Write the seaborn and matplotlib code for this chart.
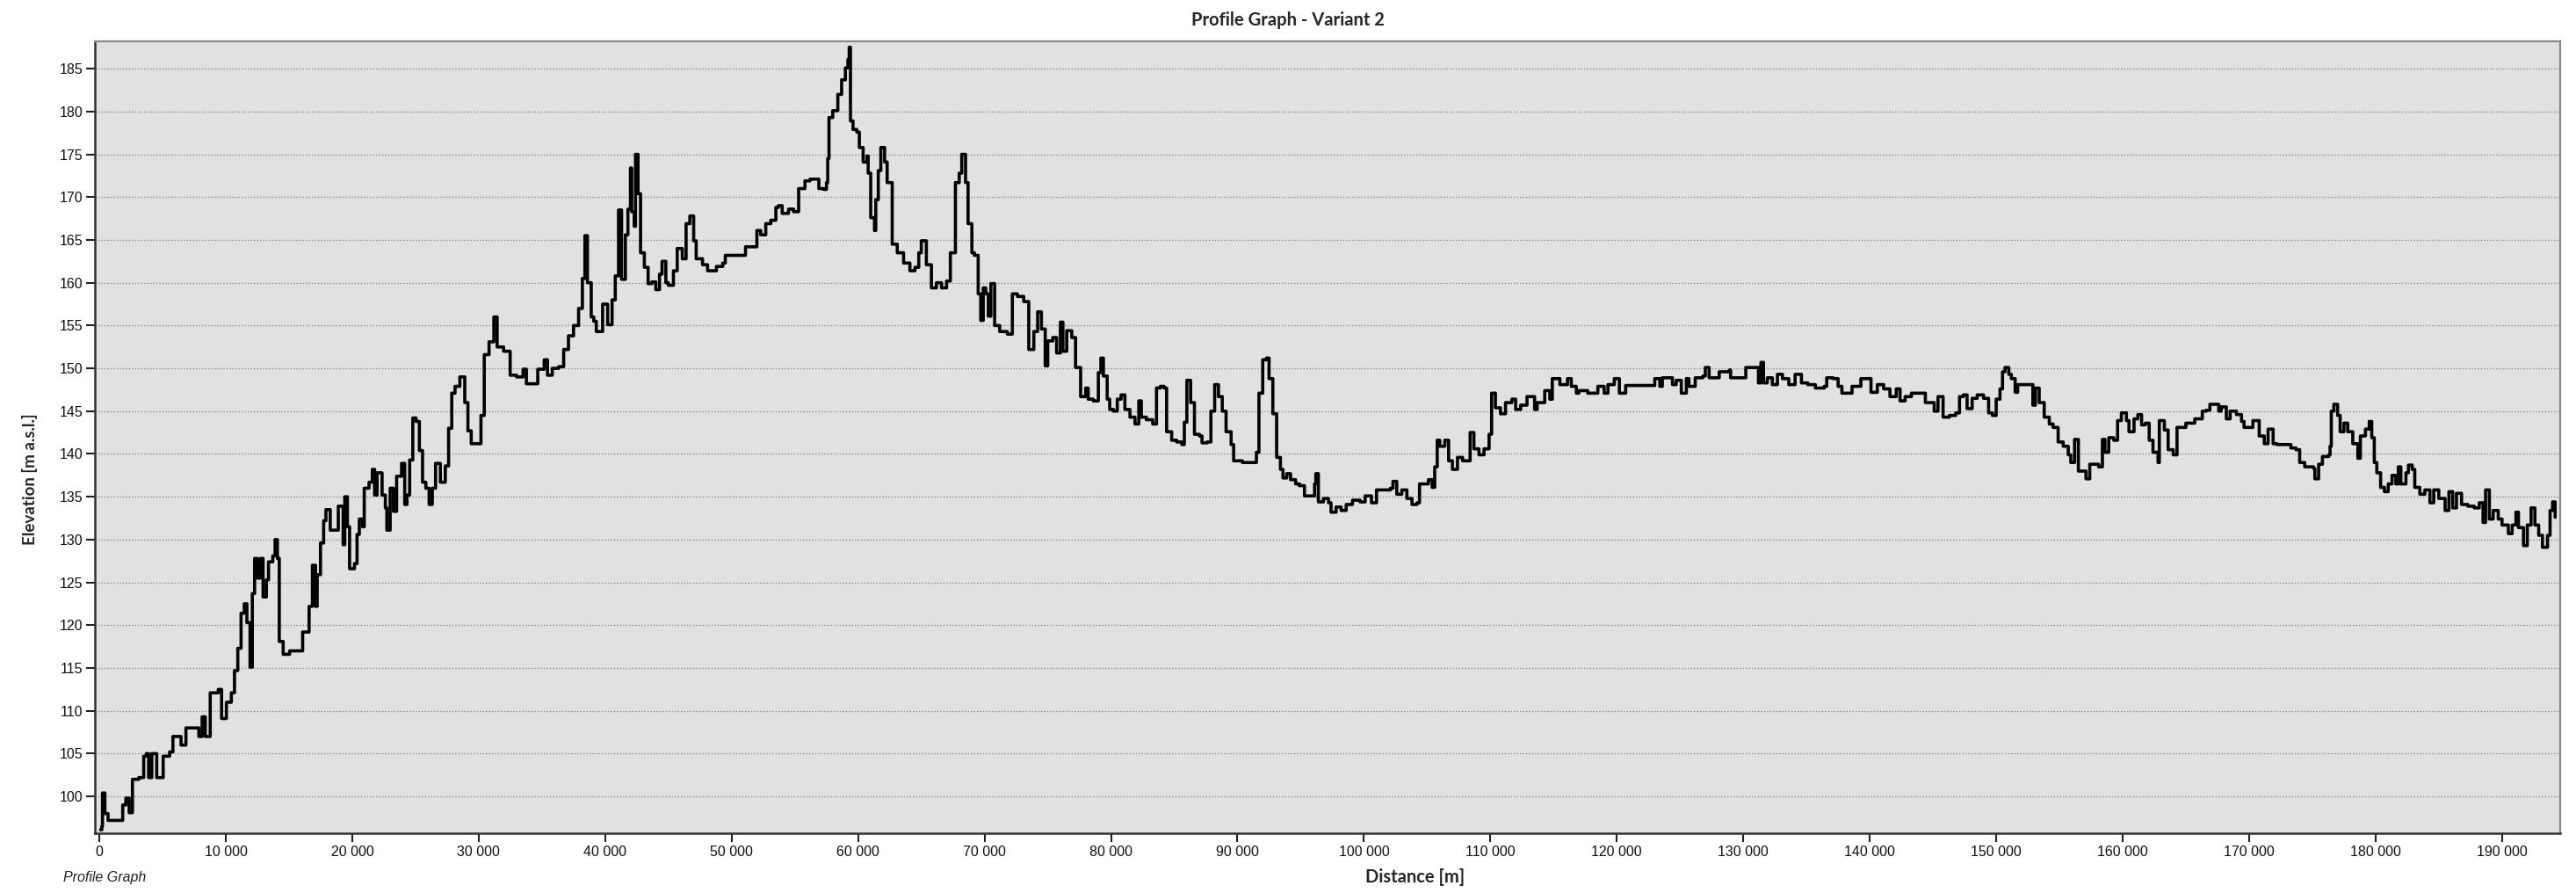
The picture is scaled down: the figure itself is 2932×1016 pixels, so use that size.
import numpy as np
import pandas as pd
import matplotlib
matplotlib.use("Agg")
from matplotlib import pyplot as plt
from matplotlib.ticker import FuncFormatter, MultipleLocator
import seaborn as sns

# profile: distance in km, elevation in m a.s.l.
distance_km = [
    0.1, 0.2, 0.25, 0.44, 0.69, 1.72, 1.85, 2.10, 2.36, 2.62, 3.13, 3.51, 3.72, 3.90, 4.15, 4.54,
    4.92, 5.05, 5.56, 5.82, 6.33, 6.46, 6.85, 7.87, 8.13, 8.38, 8.64, 8.77, 9.41, 9.67, 10.05,
    10.44, 10.69, 10.95, 11.21, 11.46, 11.67, 11.92, 12.10, 12.28, 12.49, 12.74, 12.95, 13.21,
    13.38, 13.72, 13.90, 14.08, 14.23, 14.54, 15.05, 15.56, 16.08, 16.59, 16.85, 17.10, 17.23,
    17.49, 17.74, 17.92, 18.26, 18.64, 18.90, 19.28, 19.41, 19.62, 19.79, 20.18, 20.38, 20.56,
    20.82, 20.95, 21.33, 21.59, 21.77, 21.97, 22.36, 22.62, 22.74, 23.00, 23.26, 23.51, 23.90,
    24.15, 24.33, 24.54, 24.79, 25.05, 25.31, 25.56, 25.82, 26.08, 26.33, 26.59, 26.97, 27.36,
    27.62, 27.87, 28.13, 28.51, 28.90, 29.15, 29.41, 29.79, 30.18, 30.44, 30.82, 31.2, 31.46,
    31.97, 32.49, 33.00, 33.51, 33.77, 34.28, 34.67, 35.18, 35.44, 35.82, 36.33, 36.72, 37.10,
    37.5, 37.9, 38.2, 38.4, 38.6, 38.9, 39.1,
    39.3, 39.8, 40.2, 40.55, 40.8, 41.06, 41.3, 41.6, 41.8, 42.0, 42.1, 42.3, 42.4, 42.6, 42.8,
    43.1, 43.4, 43.7, 44.0, 44.3, 44.5, 44.8, 45.0, 45.4, 45.7, 46.1, 46.4, 46.7, 47.0, 47.2,
    47.7, 48.1, 48.8, 49.3, 49.5, 50.3, 51.1, 51.6, 52.0, 52.3, 52.7, 53.1, 53.5, 53.7, 54.0,
    54.5, 54.9, 55.3, 55.8, 56.2, 56.7, 56.9, 57.3, 57.5, 57.6, 57.7, 58.0, 58.4, 58.7, 59.0,
    59.2, 59.3, 59.4, 59.6, 59.9, 60.1, 60.4, 60.7, 60.8, 61.0, 61.3, 61.4, 61.6, 61.8, 62.1,
    62.3, 62.7, 63.1, 63.6, 64.1, 64.5, 64.8, 65.0, 65.4, 65.8, 66.2, 66.6, 67.0, 67.3, 67.7,
    68.0, 68.2, 68.5, 68.7, 69.0, 69.2, 69.5, 69.7, 69.9, 70.1, 70.3, 70.5, 70.8, 71.2, 71.8,
    72.2, 72.6, 73.1, 73.5, 73.9, 74.2, 74.5, 74.8, 75.0, 75.4, 75.7, 76.0, 76.2, 76.5, 76.9,
    77.2, 77.6, 78.0, 78.2, 78.6, 79.0,
    79.2, 79.4, 79.7, 79.9, 80.2, 80.5, 80.8, 81.1, 81.5, 81.9, 82.2, 82.4, 82.8, 83.3, 83.6,
    83.9, 84.2, 84.4, 84.8, 85.2, 85.6, 85.8, 86.0, 86.3, 86.6, 87.0, 87.2, 87.6, 87.9, 88.2,
    88.5, 88.8, 89.1, 89.5, 89.7, 90.4, 91.2, 91.5, 91.7, 92.0, 92.3, 92.5, 92.8, 93.1, 93.4,
    93.6, 93.9, 94.2, 94.6, 94.9, 95.3, 95.7, 96.1, 96.2, 96.4, 96.8, 97.2, 97.4, 97.8, 98.2,
    98.6, 99.1, 99.7, 100.1, 100.6, 101.0, 101.5, 102.1, 102.3, 102.6, 103.0, 103.4, 103.8,
    104.2, 104.4, 104.8, 105.1, 105.4, 105.6, 105.8, 106.0, 106.4, 106.7, 107.0, 107.4, 107.8,
    108.1, 108.4, 108.7, 109.1, 109.5, 109.9, 110.1, 110.4, 110.8, 111.2, 111.7, 112.0, 112.4,
    112.9, 113.5, 113.7, 114.3, 114.7, 114.9, 115.5, 116.1, 116.4, 116.8, 117.0, 117.7, 118.3,
    118.5, 119.0, 119.3, 119.8, 120.2,
    120.7, 122.9, 123.0, 123.4, 123.6, 124.2, 124.4, 124.7, 125.1, 125.5, 125.7, 126.2, 126.8,
    127.0, 127.3, 128.1, 128.9, 129.0, 129.9, 130.2, 131.0, 131.2, 131.4, 131.6, 131.9, 132.3,
    132.7, 133.1, 133.6, 134.1, 134.6, 135.1, 135.7, 136.4, 136.6, 137.1, 137.5, 137.8, 138.3,
    138.6, 139.3, 139.7, 140.1, 140.6, 141.1, 141.6, 142.1, 142.4, 142.8, 143.3, 144.3, 144.4,
    144.9, 145.1, 145.4, 145.8, 146.3, 146.8, 147.1, 147.4, 147.7, 148.1, 148.5, 149.0, 149.4,
    149.7, 150.0, 150.3, 150.5, 150.7, 151.0, 151.2, 151.5, 151.7, 152.8, 152.9, 153.1, 153.4,
    153.8, 154.2, 154.5, 154.9, 155.3, 155.7, 155.9, 156.2, 156.5, 156.9, 157.1, 157.4, 157.9,
    158.1, 158.4,
    158.6, 158.9, 159.3, 159.6, 159.9, 160.3, 160.5, 160.9, 161.2, 161.5, 161.8, 162.1, 162.4,
    162.8, 162.9, 163.3, 163.6, 164.0, 164.3, 164.8, 165.0, 165.5, 165.7, 166.2, 166.3, 166.6,
    166.9, 167.3, 167.6, 167.8, 168.2, 168.5, 169.0, 169.4, 169.6, 170.1, 170.3, 170.6, 170.8,
    171.2, 171.5, 171.9, 172.2, 172.9, 173.3, 173.7, 174.0, 174.4, 174.8, 175.1, 175.2, 175.5,
    175.8, 176.3, 176.4, 176.5, 176.7, 177.0, 177.2, 177.5, 177.8, 178.2, 178.6, 178.8, 179.2,
    179.5, 179.7, 179.9, 180.1, 180.4, 180.7, 181.0, 181.3, 181.6, 181.8, 182.0, 182.4, 182.6,
    182.9, 183.1, 183.5, 183.9, 184.3, 184.6, 185.0, 185.5, 185.8, 186.1, 186.4, 186.8, 187.3,
    187.8, 188.2, 188.5, 188.7, 189.0, 189.3, 189.7, 190.0, 190.5, 190.8, 191.1, 191.3, 191.7,
    192.0, 192.3, 192.6, 192.9, 193.2, 193.6, 193.8, 194.0, 194.2,
]

elevation = [
    96.1, 96.5, 100.4, 98.0, 97.2, 97.2, 99.0, 99.8, 98.1, 102.0, 102.2, 104.7, 105.0, 102.2, 105.0, 102.2,
    102.2, 104.7, 105.2, 107.0, 107.0, 106.0, 108.0, 107.0, 109.3, 107.0, 107.0, 112.1, 112.5, 109.1, 111.0,
    112.1, 114.7, 117.3, 121.4, 122.5, 120.3, 115.1, 123.7, 127.8, 125.5, 127.8, 123.3, 125.3,
    127.4, 128.1, 130.0, 127.8, 118.1, 116.6, 117.0, 117.0, 119.2, 122.2, 127.0, 122.2, 125.9,
    129.6, 132.2, 133.5, 131.1, 131.1, 133.9, 129.4, 135.0, 131.5, 126.6, 127.2, 130.6, 132.4,
    131.5, 136.0, 136.7, 138.2, 135.2, 137.8, 135.2, 133.7, 131.1, 136.0, 133.3, 137.4, 138.9,
    134.1, 135.2, 139.3, 144.2, 143.8, 140.4, 136.7, 136.0, 134.1, 136.0, 138.9, 136.7, 138.6,
    143.0, 147.1, 147.9, 149.0, 146.0, 142.7, 141.2, 141.2, 144.5, 151.6, 153.1, 156.0, 152.5,
    152.0, 149.2, 149.0, 149.9, 148.2, 148.2, 149.9, 151.0, 149.2, 150.0, 150.2, 152.2, 153.8,
    155.0, 157.0, 160.5, 165.5, 160.0, 156.0, 155.5,
    154.3, 157.5, 155.1, 158.0, 160.8, 168.5, 160.4, 165.6, 168.6, 173.4, 168.3, 166.6, 175.0, 170.4, 163.5,
    161.8, 159.9, 160.1, 159.2, 161.0, 162.5, 160.0, 159.7, 161.4, 164.0, 162.8, 166.9, 167.8, 164.9, 162.8,
    162.1, 161.4, 161.9, 162.3, 163.2, 163.2, 164.2, 164.2, 166.1, 165.6, 166.9, 167.3, 168.8, 169.0, 168.1,
    168.6, 168.3, 171.0, 171.9, 172.1, 172.1, 171.0, 170.9, 171.7, 174.5, 179.3, 180.1, 182.0, 183.7, 185.1,
    186.1, 187.5, 178.9, 177.9, 177.6, 175.8, 174.1, 174.8, 172.8, 167.6, 166.1, 169.7, 173.1, 175.8, 174.1,
    171.7, 164.5, 163.5, 162.3, 161.4, 161.8, 163.5, 164.9, 162.1, 159.4, 160.0, 159.4, 160.2, 163.5, 171.7,
    172.8, 175.0, 171.7, 166.9, 163.5, 163.2, 158.7, 155.6, 159.4, 158.7, 156.1, 159.9, 155.0, 154.3, 154.0,
    158.7, 158.4, 157.8, 152.2, 154.3, 156.6, 154.6, 150.3, 153.2, 153.6, 151.8, 155.4, 152.0, 154.4, 153.6,
    150.1, 146.7, 147.7, 146.4, 146.2, 149.5,
    151.2, 149.1, 146.4, 145.2, 145.0, 146.4, 146.9, 145.2, 144.3, 143.5, 146.2, 144.3, 144.0, 143.5, 147.7,
    147.9, 147.7, 142.6, 141.6, 141.4, 141.1, 143.7, 148.6, 146.0, 142.3, 142.1, 141.3, 141.4, 145.0, 148.1,
    146.7, 145.0, 142.6, 141.1, 139.2, 139.0, 139.0, 140.2, 147.1, 151.0, 151.2, 148.8, 144.7, 139.6, 138.2,
    137.2, 137.7, 137.0, 136.5, 136.3, 135.1, 135.1, 136.5, 137.7, 134.4, 134.8, 134.3, 133.2, 133.8, 133.4,
    134.1, 134.6, 134.4, 135.1, 134.3, 135.8, 135.8, 136.0, 136.8, 135.3, 135.8, 134.8, 134.1,
    134.3, 136.5, 136.5, 137.0, 136.1, 138.5, 141.6, 140.9, 141.6, 139.2, 138.2, 139.6, 139.2,
    139.2, 142.5, 140.6, 139.9, 140.6, 142.3, 147.1, 145.4, 144.7, 146.0, 146.4, 145.2, 145.7,
    146.7, 145.2, 146.0, 147.4, 146.4, 148.8, 148.1, 148.8, 147.9, 147.1, 147.4, 147.1, 147.1,
    147.9, 147.1, 148.1, 148.8, 147.1,
    148.0, 148.0, 148.8, 147.9, 148.9, 148.9, 148.1, 148.6, 147.1, 148.8, 147.9, 148.9, 149.1,
    150.1, 148.9, 149.6, 149.8, 148.9, 148.9, 150.1, 150.1, 148.3, 150.7, 148.3, 148.9, 148.1,
    149.3, 148.8, 148.1, 149.3, 148.3, 148.1, 147.7, 147.9, 148.9, 148.8, 147.9, 147.1, 147.1,
    147.9, 148.8, 148.8, 147.2, 148.1, 147.6, 146.7, 147.6, 146.2, 146.7, 147.1, 147.1, 146.0,
    146.0, 145.0, 146.7, 144.3, 144.5, 144.8, 146.7, 146.9, 145.3, 146.5, 146.9, 146.5, 144.8,
    144.5, 146.4, 147.6, 149.6, 150.1, 149.3, 148.8, 147.2, 148.1, 148.1, 145.7, 147.7, 146.0,
    144.3, 143.5, 143.1, 141.4, 140.9, 139.9, 139.0, 141.7, 138.0, 138.0, 137.1, 138.8, 138.8,
    138.5, 141.7,
    140.2, 141.9, 141.6, 143.9, 144.8, 143.9, 142.6, 144.1, 144.6, 143.4, 143.6, 141.6, 140.2,
    139.0, 143.9, 142.8, 140.5, 139.9, 143.1, 143.1, 143.6, 143.6, 144.1, 144.1, 145.0, 145.1,
    145.8, 145.8, 145.0, 145.5, 144.1, 145.0, 144.6, 143.8, 143.1, 143.1, 143.9, 143.9, 142.1,
    141.2, 142.9, 141.2, 141.1, 141.1, 140.7, 140.5, 139.0, 138.5, 138.5, 138.3, 137.1, 138.8,
    139.7, 139.9, 140.9, 145.0, 145.8, 144.5, 142.6, 143.6, 142.6, 141.2, 139.5, 142.1, 142.9,
    143.8, 141.9, 139.0, 137.8, 136.1, 135.6, 136.5, 137.5, 136.5, 138.5, 136.5, 137.8, 138.7,
    138.2, 136.1, 135.3, 135.8, 134.3, 135.8, 134.8, 133.4, 135.6, 133.7, 135.4, 134.1, 133.9,
    133.7, 134.3, 132.0, 135.8, 132.4, 133.4, 132.4, 131.7, 130.7, 131.7, 133.2, 131.4, 129.3,
    131.7, 133.7, 131.7, 130.5, 129.1, 130.5, 133.4, 134.4, 132.6,
]

df = pd.DataFrame({"Distance": np.array(distance_km) * 1000, "Elevation": elevation})

sns.set_style("white", {"axes.facecolor": "#e1e1e1"})
plt.rcParams["font.family"] = ["Liberation Sans", "DejaVu Sans"]

W, H = 2932, 1016
fig = plt.figure(figsize=(W / 100, H / 100), dpi=100)
ax = fig.add_axes([108 / W, 1 - 948 / H, (2914 - 108) / W, (948 - 47) / H])

# elevation model gives a blocky profile, so draw it as steps
sns.lineplot(data=df, x="Distance", y="Elevation", ax=ax, color="black",
             linewidth=2.6, estimator=None, sort=False, drawstyle="steps-post")

ax.set_xlim(-350, 194600)
ax.set_ylim(95.7, 188.2)
ax.xaxis.set_major_locator(MultipleLocator(10000))
ax.yaxis.set_major_locator(MultipleLocator(5))
ax.xaxis.set_major_formatter(FuncFormatter(lambda v, p: f"{int(v):,}".replace(",", " ")))
ax.yaxis.grid(True, color="#8c8c8c", linestyle=(0, (1, 1.5)), linewidth=1)
ax.xaxis.grid(False)
ax.tick_params(axis="both", which="major", length=7, width=1.5, color="#222222",
               labelsize=11.5, labelcolor="#111111", pad=3, direction="out",
               bottom=True, left=True)
ax.set_xlabel("")
ax.set_ylabel("")

for side in ["left", "bottom"]:
    ax.spines[side].set_color("#333333")
    ax.spines[side].set_linewidth(1.8)
for side in ["top", "right"]:
    ax.spines[side].set_color("#8a8a8a")
    ax.spines[side].set_linewidth(1.6)
    ax.spines[side].set_visible(True)

fig.text(0.5, 1 - 23 / H, "Profile Graph - Variant 2", ha="center", va="center",
         fontsize=14.5, fontweight="bold", family=["Lato", "DejaVu Sans"])
fig.text(1611 / W, 1 - 998 / H, "Distance [m]", ha="center", va="center",
         fontsize=14.5, fontweight="bold", family=["Lato", "DejaVu Sans"])
fig.text(34 / W, 1 - 545 / H, "Elevation [m a.s.l.]", ha="center", va="center",
         rotation=90, fontsize=13.5, fontweight="bold", family=["Lato", "DejaVu Sans"])
fig.text(72 / W, 1 - 998 / H, "Profile Graph", ha="left", va="center",
         fontsize=11.5, style="italic", color="#222222")

fig.savefig("out.png", dpi=100)
